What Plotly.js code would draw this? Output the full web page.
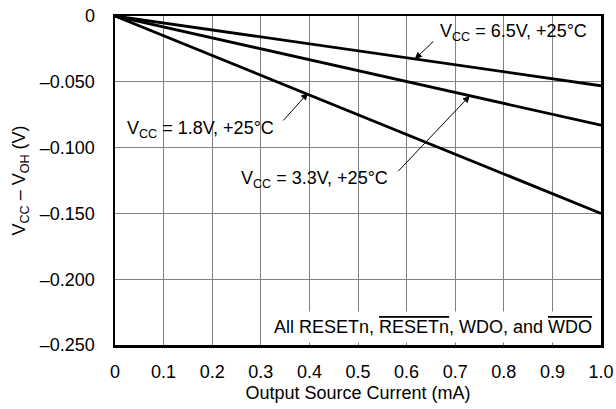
<!DOCTYPE html>
<html>
<head>
<meta charset="utf-8">
<script src="https://cdn.plot.ly/plotly-3.0.1.min.js"></script>
<style>html,body{margin:0;padding:0;background:#fff;}#chart{width:616px;height:409px;}</style>
</head>
<body>
<div id="chart"></div>
<script>
// Data
const current_mA = [0, 0.5, 1.0];
const vcc18 = [0, -0.075, -0.150];
const vcc33 = [0, -0.0415, -0.083];
const vcc65 = [0, -0.0265, -0.053];

const xTickVals = [0, 0.1, 0.2, 0.3, 0.4, 0.5, 0.6, 0.7, 0.8, 0.9, 1.0];
const xTickText = ['0', '0.1', '0.2', '0.3', '0.4', '0.5', '0.6', '0.7', '0.8', '0.9', '1.0'];
const yTickVals = [0, -0.05, -0.10, -0.15, -0.20, -0.25];
const yTickText = ['0', '\u20130.050', '\u20130.100', '\u20130.150', '\u20130.200', '\u20130.250'];

const labels = ['V<sub>CC</sub> = 1.8V, +25\u00B0C', 'V<sub>CC</sub> = 3.3V, +25\u00B0C', 'V<sub>CC</sub> = 6.5V, +25\u00B0C'];
const noteText = 'All RESETn, <span style="text-decoration:overline">RESETn</span>, WDO, and <span style="text-decoration:overline">WDO</span>';

const FONT = 'Liberation Sans, Arial, Helvetica, sans-serif';
const FS = 18;
const lineStyle = {color: '#000', width: 2.8};

const traces = [
  {x: current_mA, y: vcc18, mode: 'lines', line: lineStyle, name: labels[0], hoverinfo: 'skip'},
  {x: current_mA, y: vcc33, mode: 'lines', line: lineStyle, name: labels[1], hoverinfo: 'skip'},
  {x: current_mA, y: vcc65, mode: 'lines', line: lineStyle, name: labels[2], hoverinfo: 'skip'}
];

function arrow(x, y, ax, ay) {
  return {x: x, y: y, xref: 'x', yref: 'y', ax: ax, ay: ay, text: '', showarrow: true,
    arrowhead: 2, arrowsize: 1.4, arrowwidth: 1, arrowcolor: '#000', standoff: 0, startstandoff: 0};
}
function label(x, y, t) {
  return {x: x, y: y, xref: 'x', yref: 'y', text: t, showarrow: false,
    font: {family: FONT, size: FS, color: '#000'}};
}

const layout = {
  width: 616, height: 409,
  margin: {l: 115, r: 15, t: 16, b: 64},
  paper_bgcolor: '#fff', plot_bgcolor: '#fff',
  showlegend: false,
  font: {family: FONT, size: FS, color: '#000'},
  xaxis: {
    range: [0, 1.0], tickvals: xTickVals, ticktext: xTickText,
    showgrid: true, gridcolor: '#808080', gridwidth: 1, zeroline: false,
    showline: true, mirror: true, linecolor: '#000', linewidth: 2.5,
    ticks: 'outside', ticklen: 9, tickcolor: 'rgba(0,0,0,0)',
    tickfont: {family: FONT, size: FS, color: '#000'},
    title: {text: 'Output Source Current (mA)', font: {family: FONT, size: FS, color: '#000'}, standoff: 6},
    fixedrange: true
  },
  yaxis: {
    range: [-0.25, 0], tickvals: yTickVals, ticktext: yTickText,
    showgrid: true, gridcolor: '#808080', gridwidth: 1, zeroline: false,
    showline: true, mirror: true, linecolor: '#000', linewidth: 2.5,
    ticks: 'outside', ticklen: 14, tickcolor: 'rgba(0,0,0,0)',
    tickfont: {family: FONT, size: FS, color: '#000'},
    title: {text: 'V<sub>CC</sub> \u2013 V<sub>OH</sub> (V)', font: {family: FONT, size: FS, color: '#000'}, standoff: 10},
    fixedrange: true
  },
  annotations: [
    label(0.175, -0.0866, labels[0]),
    label(0.41, -0.1246, labels[1]),
    label(0.819, -0.0129, labels[2]),
    arrow(0.397, -0.0585, -26, 29),
    arrow(0.73, -0.0606, -73, 77),
    arrow(0.617, -0.0327, 20, -19),
    {x: 1.0, y: -0.2363, xref: 'x', yref: 'y', xanchor: 'right', xshift: -3, text: noteText, showarrow: false,
      bgcolor: '#fff', borderpad: 5, font: {family: FONT, size: FS, color: '#000'}}
  ]
};

Plotly.newPlot('chart', traces, layout, {displayModeBar: false, staticPlot: true});
</script>
</body>
</html>
